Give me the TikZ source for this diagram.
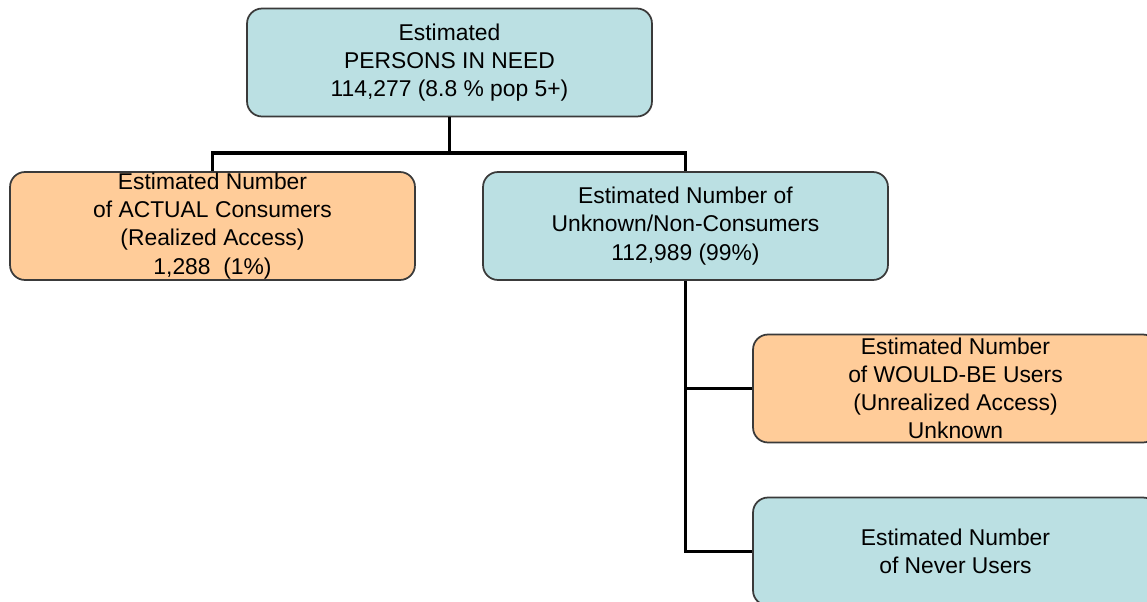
\documentclass[tikz,border=0pt]{standalone}
\usepackage{fontspec}
\setmainfont{Liberation Sans}
\usetikzlibrary{positioning}
\definecolor{needblue}{HTML}{BBE0E3}
\definecolor{needorange}{HTML}{FFCC99}
\definecolor{neededge}{HTML}{3A3A3A}
\begin{document}
\begin{tikzpicture}[x=0.02cm, y=-0.02cm,
  font=\fontsize{13}{16}\selectfont,
  box/.style={draw=neededge, line width=1pt, rounded corners=0.3cm, align=center,
    minimum width=8.1cm, minimum height=2.16cm, inner sep=0pt},
  bluebox/.style={box, fill=needblue},
  orangebox/.style={box, fill=needorange},
  link/.style={draw=black, line width=2.2pt}]
\useasboundingbox (0,0) rectangle (1147,602);
\clip (0,0) rectangle (1147,602);
\node[bluebox] (need) at (449.5,62.5) {Estimated\\PERSONS IN NEED\\114,277 (8.8 \% pop 5+)};
\node[orangebox] (actual) at (212.5,226) {Estimated Number\\of ACTUAL Consumers\\(Realized Access)\\1,288\ \ (1\%)};
\node[bluebox] (nonuse) at (685.5,226) {Estimated Number of\\Unknown/Non-Consumers\\112,989 (99\%)};
\node[orangebox] (wouldbe) at (955.5,388.5) {Estimated Number\\of WOULD-BE Users\\(Unrealized Access)\\Unknown};
\node[bluebox] (never) at (955.5,551.5) {Estimated Number\\of Never Users};
% tree connectors
\coordinate (split) at (449.5,153);
\draw[link] (need.south) -- (split);
\draw[link] (actual.north) |- (split) -| (nonuse.north);
\draw[link] (nonuse.south) |- (never.west);
\draw[link] (nonuse.south |- wouldbe.west) -- (wouldbe.west);
\end{tikzpicture}
\end{document}
